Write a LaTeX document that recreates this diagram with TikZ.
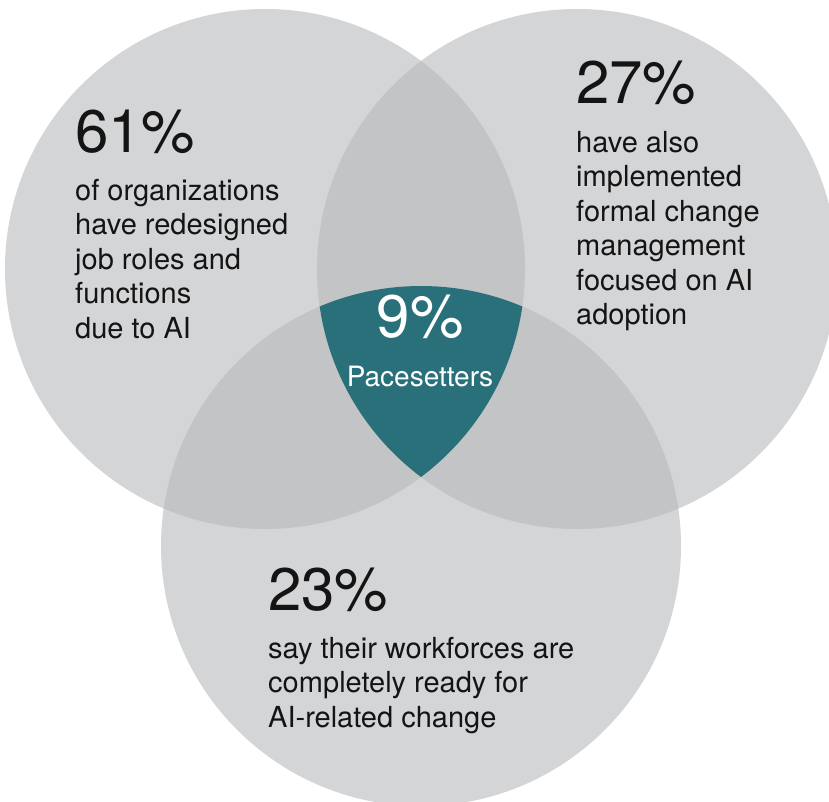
\documentclass[tikz,border=0pt]{standalone}
\usepackage{fontspec}
\setmainfont{TeX Gyre Heros}
\usetikzlibrary{positioning}

\definecolor{disc}{HTML}{D4D5D7}
\definecolor{lens}{HTML}{C3C4C6}
\definecolor{pace}{HTML}{29707A}
\definecolor{ink}{HTML}{141414}

\begin{document}
\begin{tikzpicture}[
  x=1pt, y=-1pt,
  pct/.style={font=\fontsize{60}{60}\selectfont, text=ink, inner sep=0pt, anchor=base west},
  blurb/.style={font=\fontsize{29}{34.5}\selectfont, text=ink, inner sep=0pt, anchor=north west, align=left},
  core/.style={text=white, inner sep=0pt, anchor=base}
  ]
  \useasboundingbox (0,0) rectangle (829,801);
  \fill[white] (0,0) rectangle (829,801);
  \clip (0,0) rectangle (829,801);
  % centres of the three sets
  \coordinate (org) at (265,269);
  \coordinate (chg) at (577,269);
  \coordinate (wrk) at (421,546);
  \fill[disc] (org) circle[radius=260pt];
  \fill[disc] (chg) circle[radius=260pt];
  \fill[disc] (wrk) circle[radius=260pt];
  % pairwise overlaps
  \begin{scope}
    \clip (org) circle[radius=260pt];
    \fill[lens] (chg) circle[radius=260pt];
    \fill[lens] (wrk) circle[radius=260pt];
  \end{scope}
  \begin{scope}
    \clip (chg) circle[radius=260pt];
    \fill[lens] (wrk) circle[radius=260pt];
  \end{scope}
  % all three at once
  \begin{scope}
    \clip (org) circle[radius=260pt];
    \clip (chg) circle[radius=260pt];
    \fill[pace] (wrk) circle[radius=260pt];
  \end{scope}
  % labels
  \node[pct] (n61) at (75,152) {61\%};
  \node[blurb] (t61) at (75,175.85) {\strut of organizations\\have redesigned\\job roles and\\functions\\due to AI};
  \node[pct] (n27) at (576,103) {27\%};
  \node[blurb] (t27) at (576,127.85) {\strut have also\\implemented\\formal change\\management\\focused on AI\\adoption};
  \node[pct] (n23) at (268,610) {23\%};
  \node[blurb] (t23) at (268,633.85) {\strut say their workforces are\\completely ready for\\AI-related change};
  \node[core, font=\fontsize{60}{60}\selectfont] (n9) at (420,337) {9\%};
  \node[core, font=\fontsize{28}{34}\selectfont] (pace) at (420,386) {Pacesetters};
\end{tikzpicture}
\end{document}
